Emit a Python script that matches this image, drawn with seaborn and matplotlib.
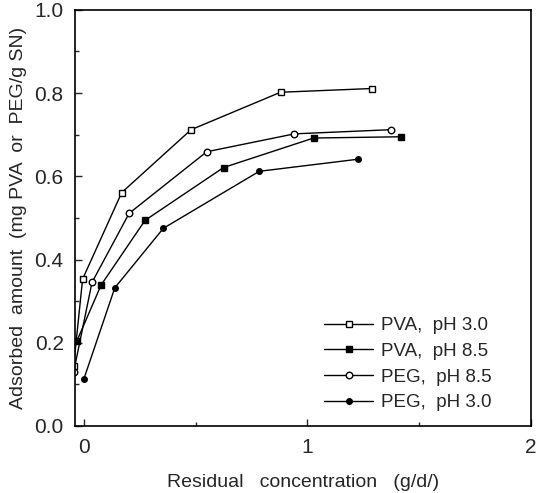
import seaborn as sns
import matplotlib.pyplot as plt
import pandas as pd

pva3_x = [-0.045, -0.005, 0.17, 0.48, 0.88, 1.29]
pva3_y = [0.145, 0.353, 0.561, 0.712, 0.802, 0.811]
pva85_x = [-0.03, 0.078, 0.274, 0.625, 1.028, 1.417]
pva85_y = [0.205, 0.339, 0.494, 0.621, 0.692, 0.695]
peg85_x = [-0.045, 0.037, 0.203, 0.55, 0.942, 1.372]
peg85_y = [0.13, 0.345, 0.511, 0.659, 0.702, 0.712]
peg3_x = [0.0, 0.139, 0.356, 0.785, 1.226]
peg3_y = [0.112, 0.332, 0.475, 0.612, 0.641]

series = [
    ("PVA,  pH 3.0", pva3_x, pva3_y, "s", "white", 5),
    ("PVA,  pH 8.5", pva85_x, pva85_y, "s", "black", 5),
    ("PEG,  pH 8.5", peg85_x, peg85_y, "o", "white", 4.7),
    ("PEG,  pH 3.0", peg3_x, peg3_y, "o", "black", 4),
]

sns.set_style("ticks")
plt.rcParams['font.family'] = ['Liberation Sans', 'DejaVu Sans']

fig = plt.figure(figsize=(5.38, 4.93), dpi=100)
ax = fig.add_axes([0.139, 0.136, 0.848, 0.844])

for name, xs, ys, mk, fc, ms in series:
    df = pd.DataFrame({"x": xs, "y": ys})
    sns.lineplot(data=df, x="x", y="y", ax=ax, color="black", linewidth=1,
                 marker=mk, markerfacecolor=fc, markeredgecolor="black",
                 markeredgewidth=1, markersize=ms, label=name, sort=False)

ax.set_xlim(-0.04, 2.0)
ax.set_ylim(0, 1.0)
ax.set_xticks([0, 1, 2])
ax.set_xticks([0.5, 1.5], minor=True)
ax.set_yticks([0, 0.2, 0.4, 0.6, 0.8, 1.0])
ax.set_yticklabels(["0.0", "0.2", "0.4", "0.6", "0.8", "1.0"])
ax.set_yticks([0.1, 0.3, 0.5, 0.7, 0.9], minor=True)
ax.tick_params(which="both", direction="in", labelsize=15, width=1)
ax.tick_params(which="major", length=5)
ax.tick_params(which="minor", length=3)
ax.tick_params(axis="x", pad=9)
ax.tick_params(axis="y", pad=8)
for s in ax.spines.values():
    s.set_linewidth(1.2)
    s.set_color("black")

ax.set_xlabel("Residual   concentration   (g/d/)", fontsize=14, labelpad=12)
ax.set_ylabel("Adsorbed  amount  (mg PVA  or  PEG/g SN)", fontsize=14, labelpad=5)

ax.legend(loc="lower right", bbox_to_anchor=(0.95, -0.005), frameon=False,
          fontsize=13.5, handlelength=2.6, handletextpad=0.4, labelspacing=0.45)

fig.savefig("out.png", dpi=100)
